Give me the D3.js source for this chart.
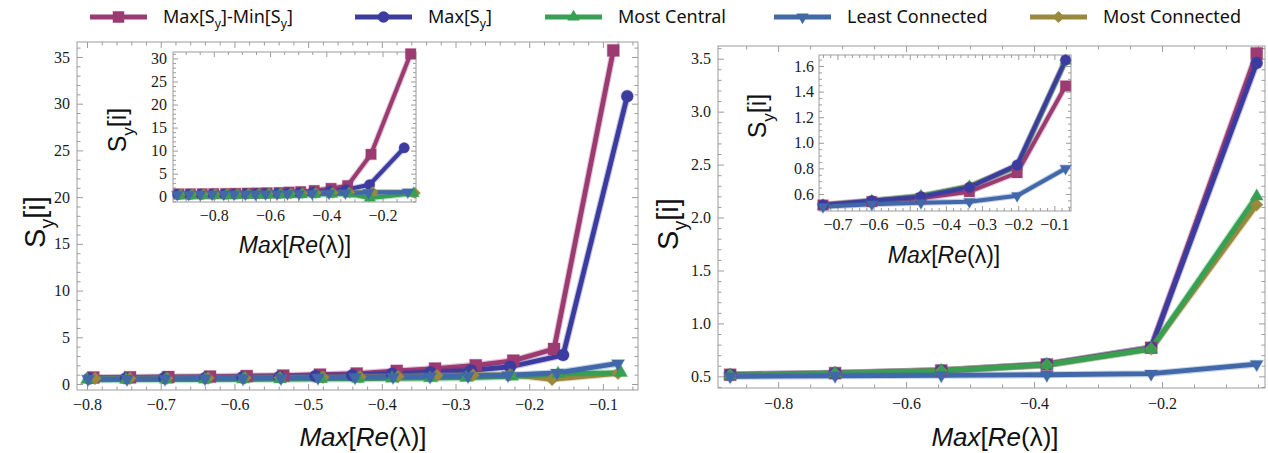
<!DOCTYPE html>
<html><head><meta charset="utf-8">
<script src="https://cdn.jsdelivr.net/npm/d3@7"></script>
<style>body{margin:0;background:#fff;} svg{display:block}</style>
</head><body>
<svg id="chart" width="1268" height="453"></svg>
<script>
// ================= DATA =================
const seriesNames = ["Max[S_y]-Min[S_y]", "Max[S_y]", "Most Central", "Least Connected", "Most Connected"];

// ---- left main panel ----
const leftMainMaxMinX  = [-0.7915,-0.7417,-0.6897,-0.6331,-0.5833,-0.5337,-0.4839,-0.4341,-0.3798,-0.3278,-0.2726,-0.2216,-0.1663,-0.0859];
const leftMainMaxMinY  = [0.70,0.72,0.75,0.80,0.85,0.90,1.00,1.12,1.40,1.65,2.00,2.50,3.75,35.7];
const leftMainMaxX     = [-0.797,-0.747,-0.695,-0.639,-0.589,-0.539,-0.490,-0.440,-0.386,-0.334,-0.279,-0.226,-0.154,-0.067];
const leftMainMaxY     = [0.60,0.62,0.65,0.68,0.72,0.76,0.85,0.95,1.10,1.25,1.45,1.85,3.10,30.8];
const leftMainCentralX = [-0.800,-0.7471,-0.6928,-0.6399,-0.5883,-0.5381,-0.4825,-0.4323,-0.3862,-0.3346,-0.2857,-0.2233,-0.1609,-0.0754];
const leftMainCentralY = [0.45,0.46,0.47,0.48,0.50,0.52,0.54,0.56,0.60,0.63,0.68,0.80,1.10,1.20];
const leftMainLeastX   = [-0.7986,-0.7457,-0.6942,-0.6399,-0.5883,-0.5368,-0.4866,-0.4364,-0.3848,-0.3346,-0.2830,-0.2288,-0.1623,-0.0795];
const leftMainLeastY   = [0.55,0.56,0.58,0.60,0.62,0.65,0.68,0.72,0.76,0.80,0.86,0.95,1.20,2.20];
const leftMainMostX    = [-0.7891,-0.7417,-0.6915,-0.6358,-0.5856,-0.5381,-0.4798,-0.4296,-0.3780,-0.3251,-0.2762,-0.2261,-0.1690,-0.0795];
const leftMainMostY    = [0.60,0.60,0.62,0.64,0.66,0.68,0.72,0.76,0.80,0.90,0.95,1.00,0.50,1.15];

// ---- left inset panel ----
const leftInsetMaxMinX  = [-0.924,-0.883,-0.841,-0.800,-0.758,-0.722,-0.681,-0.645,-0.610,-0.568,-0.532,-0.491,-0.443,-0.383,-0.324,-0.241,-0.100];
const leftInsetMaxMinY  = [0.60,0.62,0.64,0.66,0.68,0.72,0.76,0.80,0.85,0.90,1.00,1.10,1.35,1.80,2.40,9.2,31.0];
const leftInsetMaxX     = [-0.928,-0.887,-0.845,-0.804,-0.762,-0.726,-0.685,-0.649,-0.614,-0.572,-0.536,-0.495,-0.447,-0.387,-0.330,-0.246,-0.123];
const leftInsetMaxY     = [0.50,0.52,0.54,0.56,0.58,0.60,0.63,0.66,0.70,0.74,0.80,0.88,1.00,1.20,1.50,2.60,10.6];
const leftInsetCentralX = [-0.920,-0.879,-0.838,-0.797,-0.755,-0.718,-0.678,-0.641,-0.606,-0.565,-0.528,-0.487,-0.440,-0.380,-0.320,-0.245,-0.090];
const leftInsetCentralY = [0.20,0.22,0.24,0.26,0.28,0.30,0.32,0.34,0.36,0.38,0.40,0.45,0.50,0.55,0.60,-0.30,0.70];
const leftInsetLeastX   = [-0.930,-0.889,-0.848,-0.806,-0.765,-0.728,-0.688,-0.652,-0.616,-0.575,-0.538,-0.497,-0.450,-0.390,-0.332,-0.250,-0.110];
const leftInsetLeastY   = [0.50,0.50,0.51,0.52,0.53,0.54,0.55,0.56,0.58,0.60,0.62,0.65,0.70,0.75,0.80,0.90,1.00];
const leftInsetMostX    = [-0.918,-0.877,-0.836,-0.795,-0.753,-0.716,-0.676,-0.639,-0.604,-0.563,-0.526,-0.485,-0.437,-0.377,-0.318,-0.235,-0.085];
const leftInsetMostY    = [0.55,0.56,0.57,0.58,0.60,0.62,0.64,0.66,0.68,0.70,0.72,0.75,0.80,0.85,0.90,1.00,0.80];

// ---- right main panel ----
const rightMainX        = [-0.875,-0.711,-0.545,-0.380,-0.217,-0.052];
const rightMainMaxMinY  = [0.515,0.530,0.555,0.612,0.770,3.55];
const rightMainMaxY     = [0.515,0.530,0.555,0.615,0.770,3.46];
const rightMainCentralY = [0.508,0.527,0.552,0.608,0.758,2.20];
const rightMainLeastY   = [0.500,0.505,0.510,0.515,0.525,0.615];
const rightMainMostY    = [0.510,0.528,0.553,0.610,0.760,2.12];

// ---- right inset panel ----
const rightInsetX        = [-0.740,-0.605,-0.469,-0.335,-0.203,-0.069];
const rightInsetMaxMinY  = [0.514,0.540,0.566,0.618,0.766,1.444];
const rightInsetMaxY     = [0.514,0.548,0.579,0.652,0.827,1.647];
const rightInsetCentralY = [0.505,0.545,0.585,0.658,0.815,1.640];
const rightInsetLeastY   = [0.500,0.520,0.532,0.540,0.587,0.800];
const rightInsetMostY    = [0.520,0.548,0.585,0.662,0.818,1.645];

// tick values
const leftMainXTicks  = [-0.8,-0.7,-0.6,-0.5,-0.4,-0.3,-0.2,-0.1];
const leftMainYTicks  = [0,5,10,15,20,25,30,35];
const leftInsetXTicks = [-0.8,-0.6,-0.4,-0.2];
const leftInsetYTicks = [0,5,10,15,20,25,30];
const rightMainXTicks = [-0.8,-0.6,-0.4,-0.2];
const rightMainYTicks = [0.5,1.0,1.5,2.0,2.5,3.0,3.5];
const rightInsetXTicks = [-0.7,-0.6,-0.5,-0.4,-0.3,-0.2,-0.1];
const rightInsetYTicks = [0.6,0.8,1.0,1.2,1.4,1.6];

// ================= STYLE =================
const colors  = ["#9b3b72", "#3c3ca0", "#37a052", "#4168a8", "#9a883c"];
const symbols = ["square", "circle", "triUp", "triDown", "diamond"];
const frameColor = "#9c9c9c";
const serif = "'Liberation Serif', 'DejaVu Serif', 'Noto Serif', 'Times New Roman', serif";
const sans = "'Liberation Sans', Arial, Helvetica, sans-serif";

const svg = d3.select("#chart");

function symPath(kind, s) {
  switch (kind) {
    case "square":  return d3.symbol(d3.symbolSquare, s * s)();
    case "circle":  return d3.symbol(d3.symbolCircle, Math.PI * s * s / 4)();
    case "triUp":   return d3.symbol(d3.symbolTriangle, 0.5 * s * s)();
    case "triDown": return d3.symbol(d3.symbolTriangle, 0.5 * s * s)();
    case "diamond": return d3.symbol(d3.symbolSquare, 0.55 * s * s)();
  }
}
function symRot(kind) { return kind === "triDown" ? 180 : kind === "diamond" ? 45 : 0; }

function rich(sel, parts, fs) {
  let shift = 0;
  parts.forEach(p => {
    const ts = sel.append("tspan").text(p.t);
    if (p.i) ts.style("font-style", "italic");
    if (p.sub) { ts.style("font-size", (fs * 0.68) + "px").attr("dy", fs * 0.3); shift = fs * 0.3; }
    else if (shift) { ts.attr("dy", -shift); shift = 0; }
  });
}
function parseSub(str) {
  const parts = [];
  str.split(/(_y)/).forEach(s => { if (s === "_y") parts.push({t: "y", sub: true}); else if (s) parts.push({t: s}); });
  return parts;
}
const maxReParts = [{t:"Max", i:true},{t:"["},{t:"Re", i:true},{t:"("},{t:"λ"},{t:")]"}];
const syParts = [{t:"S"},{t:"y", sub:true},{t:"[i]"}];

function minorVals(domain, step, majorStep) {
  const [a, b] = domain;
  const out = [];
  for (let k = Math.ceil(a / step - 1e-9); k * step <= b + 1e-9; k++) {
    const v = +(k * step).toFixed(6);
    const r = Math.abs(v / majorStep - Math.round(v / majorStep));
    if (r > 1e-6) out.push(v);
  }
  return out;
}

function panel(cfg) {
  const g = svg.append("g");
  const x = d3.scaleLinear().domain(cfg.xDomain).range([cfg.x0, cfg.x1]);
  const y = d3.scaleLinear().domain(cfg.yDomain).range([cfg.y1, cfg.y0]);
  g.append("rect").attr("x", cfg.x0).attr("y", cfg.y0)
    .attr("width", cfg.x1 - cfg.x0).attr("height", cfg.y1 - cfg.y0).attr("fill", "#fff");

  const xMinor = minorVals(cfg.xDomain, cfg.xMinor, cfg.xMajor);
  const yMinor = minorVals(cfg.yDomain, cfg.yMinor, cfg.yMajor);
  const specs = [
    [d3.axisBottom, x, `translate(0,${cfg.y1})`, cfg.xTicks, cfg.xFmt, true],
    [d3.axisTop,    x, `translate(0,${cfg.y0})`, cfg.xTicks, cfg.xFmt, false],
    [d3.axisLeft,   y, `translate(${cfg.x0},0)`, cfg.yTicks, cfg.yFmt, true],
    [d3.axisRight,  y, `translate(${cfg.x1},0)`, cfg.yTicks, cfg.yFmt, false]
  ];
  specs.forEach(([fn, sc, tr, ticks, fmt, lab], idx) => {
    const isX = idx < 2;
    const a = fn(sc).tickValues(ticks).tickSizeInner(-cfg.major).tickSizeOuter(0)
      .tickPadding(isX ? cfg.xPad : cfg.yPad)
      .tickFormat(lab ? d3.format(fmt) : () => "");
    const ga = g.append("g").attr("transform", tr).call(a);
    ga.attr("font-family", serif).attr("font-size", cfg.tickFs);
    ga.select(".domain").remove();
    ga.selectAll("line").attr("stroke", frameColor);
    ga.selectAll("text").style("font-family", serif)
      .style("font-size", cfg.tickFs + "px").attr("fill", "#1a1a1a");
    const m = fn(sc).tickValues(isX ? xMinor : yMinor).tickSizeInner(-cfg.minor).tickSizeOuter(0).tickFormat(() => "");
    const gm = g.append("g").attr("transform", tr).call(m);
    gm.select(".domain").remove();
    gm.selectAll("line").attr("stroke", frameColor);
  });
  g.append("rect").attr("x", cfg.x0).attr("y", cfg.y0)
    .attr("width", cfg.x1 - cfg.x0).attr("height", cfg.y1 - cfg.y0)
    .attr("fill", "none").attr("stroke", frameColor).attr("stroke-width", 1);

  const clipId = "clip" + cfg.id;
  g.append("clipPath").attr("id", clipId).append("rect")
    .attr("x", cfg.x0 - 8).attr("y", cfg.y0 - 8)
    .attr("width", cfg.x1 - cfg.x0 + 16).attr("height", cfg.y1 - cfg.y0 + 16);
  const plot = g.append("g").attr("clip-path", `url(#${clipId})`);
  const line = d3.line().x(d => x(d[0])).y(d => y(d[1]));

  cfg.lineOrder.forEach(si => {
    const pts = cfg.series[si];
    plot.append("path").datum(pts).attr("d", line).attr("fill", "none")
      .attr("stroke", colors[si]).attr("stroke-opacity", 0.3)
      .attr("stroke-width", cfg.lw + 2.2).attr("stroke-linejoin", "round");
    plot.append("path").datum(pts).attr("d", line).attr("fill", "none")
      .attr("stroke", colors[si]).attr("stroke-width", cfg.lw).attr("stroke-linejoin", "round");
  });
  cfg.markerOrder.forEach(si => {
    plot.append("g").selectAll("path").data(cfg.series[si]).join("path")
      .attr("d", symPath(symbols[si], cfg.ms))
      .attr("transform", d => `translate(${x(d[0])},${y(d[1])}) rotate(${symRot(symbols[si])})`)
      .attr("fill", colors[si]).attr("stroke", colors[si]).attr("stroke-opacity", 0.3).attr("stroke-width", 1.2);
  });

  // titles
  const yt = g.append("text").style("font-family", sans)
    .style("font-size", cfg.yTitleFs + "px").attr("text-anchor", "middle").attr("fill", "#111")
    .attr("transform", `translate(${cfg.yTitleX},${cfg.yTitleY}) rotate(-90)`);
  rich(yt, syParts, cfg.yTitleFs);
  const xt = g.append("text").style("font-family", sans)
    .style("font-size", cfg.xTitleFs + "px").attr("text-anchor", "middle").attr("fill", "#111")
    .attr("x", cfg.xTitleX).attr("y", cfg.xTitleY);
  rich(xt, maxReParts, cfg.xTitleFs);
}

const zip = (xs, ys) => xs.map((v, i) => [v, ys[i]]);

panel({
  id: "LM", x0: 77, x1: 638, y0: 42, y1: 390,
  xDomain: [-0.8136, -0.0524], yDomain: [-0.64, 36.6],
  xTicks: leftMainXTicks, yTicks: leftMainYTicks, xFmt: ".1f", yFmt: "d",
  xMajor: 0.1, xMinor: 0.02, yMajor: 5, yMinor: 1,
  major: 6, minor: 3.5, xPad: 9, yPad: 7, tickFs: 16,
  lw: 4.8, ms: 12, lineOrder: [0, 1, 4, 2, 3], markerOrder: [0, 1, 4, 2, 3],
  series: [zip(leftMainMaxMinX, leftMainMaxMinY), zip(leftMainMaxX, leftMainMaxY),
           zip(leftMainCentralX, leftMainCentralY), zip(leftMainLeastX, leftMainLeastY),
           zip(leftMainMostX, leftMainMostY)],
  yTitleX: 45, yTitleY: 222, yTitleFs: 29, xTitleX: 363, xTitleY: 446, xTitleFs: 26
});
panel({
  id: "LI", x0: 173, x1: 416, y0: 52, y1: 202,
  xDomain: [-0.945, -0.081], yDomain: [-1.15, 31.4],
  xTicks: leftInsetXTicks, yTicks: leftInsetYTicks, xFmt: ".1f", yFmt: "d",
  xMajor: 0.2, xMinor: 0.05, yMajor: 5, yMinor: 1,
  major: 5, minor: 3, xPad: 8, yPad: 6, tickFs: 16,
  lw: 4, ms: 10.5, lineOrder: [0, 1, 4, 2, 3], markerOrder: [0, 1, 4, 2, 3],
  series: [zip(leftInsetMaxMinX, leftInsetMaxMinY), zip(leftInsetMaxX, leftInsetMaxY),
           zip(leftInsetCentralX, leftInsetCentralY), zip(leftInsetLeastX, leftInsetLeastY),
           zip(leftInsetMostX, leftInsetMostY)],
  yTitleX: 126, yTitleY: 130, yTitleFs: 25, xTitleX: 295, xTitleY: 253, xTitleFs: 23
});
panel({
  id: "RM", x0: 718, x1: 1265, y0: 46, y1: 388,
  xDomain: [-0.894, -0.039], yDomain: [0.39, 3.62],
  xTicks: rightMainXTicks, yTicks: rightMainYTicks, xFmt: ".1f", yFmt: ".1f",
  xMajor: 0.2, xMinor: 0.05, yMajor: 0.5, yMinor: 0.1,
  major: 6, minor: 3.5, xPad: 10, yPad: 7, tickFs: 16,
  lw: 4.8, ms: 12, lineOrder: [0, 1, 4, 2, 3], markerOrder: [0, 1, 4, 2, 3],
  series: [zip(rightMainX, rightMainMaxMinY), zip(rightMainX, rightMainMaxY),
           zip(rightMainX, rightMainCentralY), zip(rightMainX, rightMainLeastY),
           zip(rightMainX, rightMainMostY)],
  yTitleX: 678, yTitleY: 224, yTitleFs: 29, xTitleX: 995, xTitleY: 446, xTitleFs: 26
});
panel({
  id: "RI", x0: 819, x1: 1071, y0: 55, y1: 211,
  xDomain: [-0.751, -0.054], yDomain: [0.467, 1.686],
  xTicks: rightInsetXTicks, yTicks: rightInsetYTicks, xFmt: ".1f", yFmt: ".1f",
  xMajor: 0.1, xMinor: 0.02, yMajor: 0.2, yMinor: 0.05,
  major: 5, minor: 3, xPad: 8, yPad: 5, tickFs: 16,
  lw: 4, ms: 10.5, lineOrder: [4, 2, 0, 1, 3], markerOrder: [4, 2, 0, 1, 3],
  series: [zip(rightInsetX, rightInsetMaxMinY), zip(rightInsetX, rightInsetMaxY),
           zip(rightInsetX, rightInsetCentralY), zip(rightInsetX, rightInsetLeastY),
           zip(rightInsetX, rightInsetMostY)],
  yTitleX: 766, yTitleY: 116, yTitleFs: 25, xTitleX: 944, xTitleY: 263, xTitleFs: 23
});

// ================= LEGEND =================
const legendLineX = [90, 355, 545, 774, 1030];
const legendY = 17;
const legendFs = 18;
const leg = svg.append("g");
seriesNames.forEach((name, i) => {
  const lx = legendLineX[i];
  leg.append("line").attr("x1", lx).attr("x2", lx + 57).attr("y1", legendY).attr("y2", legendY)
    .attr("stroke", colors[i]).attr("stroke-width", 5);
  leg.append("path").attr("d", symPath(symbols[i], 11.5))
    .attr("transform", `translate(${lx + 28.5},${legendY}) rotate(${symRot(symbols[i])})`)
    .attr("fill", colors[i]);
  const t = leg.append("text").attr("x", lx + 73).attr("y", legendY + 6)
    .style("font-family", "'Noto Sans', 'Open Sans', sans-serif").style("font-size", legendFs + "px").attr("fill", "#111");
  rich(t, parseSub(name), legendFs);
});
</script>
</body></html>
